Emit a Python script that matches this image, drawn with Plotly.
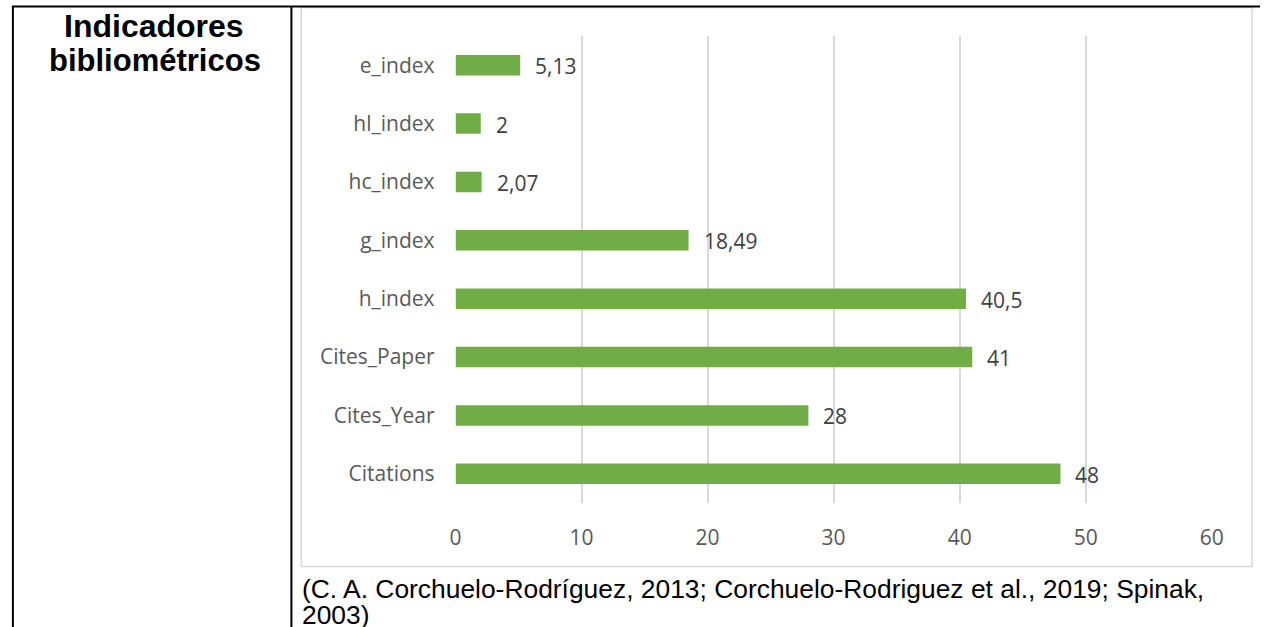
import plotly.graph_objects as go

categories = ["Citations", "Cites_Year", "Cites_Paper", "h_index", "g_index", "hc_index", "hl_index", "e_index"]
values = [48, 28, 41, 40.5, 18.49, 2.07, 2, 5.13]
x_ticks = [0, 10, 20, 30, 40, 50, 60]
labels = [("%g" % v).replace(".", ",") for v in values]

W, H = 1272, 627
def px(x):
    return x / W
def py(y):
    return 1 - y / H

fig = go.Figure()
fig.add_trace(go.Bar(
    x=values, y=categories, orientation="h",
    marker=dict(color="#70AD47", line=dict(width=0)),
    width=0.35, hoverinfo="skip",
))

annotations = []
for c, v, t in zip(categories, values, labels):
    annotations.append(dict(x=v, y=c, xref="x", yref="y", text=t, showarrow=False,
                            xanchor="left", yanchor="middle", xshift=13, yshift=-1,
                            font=dict(family="Open Sans", size=21, color="#404040")))

annotations.append(dict(x=px(150), y=py(26), xref="paper", yref="paper",
                        text="<b>Indicadores</b>", showarrow=False, xanchor="center", yanchor="middle",
                        font=dict(family="Liberation Sans", size=32, color="#000000")))
annotations.append(dict(x=px(151), y=py(60), xref="paper", yref="paper",
                        text="<b>bibliométricos</b>", showarrow=False, xanchor="center", yanchor="middle",
                        font=dict(family="Liberation Sans", size=31, color="#000000")))
annotations.append(dict(x=px(298), y=py(589), xref="paper", yref="paper",
                        text="(C. A. Corchuelo-Rodríguez, 2013; Corchuelo-Rodriguez et al., 2019; Spinak,",
                        showarrow=False, xanchor="left", yanchor="middle",
                        font=dict(family="Liberation Sans", size=26.4, color="#000000")))
annotations.append(dict(x=px(298), y=py(615), xref="paper", yref="paper",
                        text="2003)", showarrow=False, xanchor="left", yanchor="middle",
                        font=dict(family="Liberation Sans", size=26.4, color="#000000")))

shapes = [
    dict(type="rect", xref="paper", yref="paper", x0=px(299.5), x1=px(1264), y0=py(566.5), y1=py(7.5),
         line=dict(color="#D9D9D9", width=1.5), fillcolor="rgba(0,0,0,0)", layer="below"),
    dict(type="line", xref="paper", yref="paper", x0=px(6), x1=1, y0=py(6.5), y1=py(6.5),
         line=dict(color="#000000", width=2)),
    dict(type="line", xref="paper", yref="paper", x0=px(7), x1=px(7), y0=py(6), y1=0,
         line=dict(color="#000000", width=2)),
    dict(type="line", xref="paper", yref="paper", x0=px(289.5), x1=px(289.5), y0=py(6), y1=0,
         line=dict(color="#000000", width=2)),
]

fig.update_layout(
    width=W, height=H,
    margin=dict(l=0, r=0, t=0, b=0, pad=0),
    paper_bgcolor="white", plot_bgcolor="white",
    showlegend=False,
    annotations=annotations, shapes=shapes,
    xaxis=dict(domain=[px(456), px(1223)], range=[0, 60], tickvals=x_ticks,
               showgrid=True, gridcolor="#D9D9D9", gridwidth=1.5, zeroline=False,
               showline=False, ticks="", ticklabelstandoff=20,
               tickfont=dict(family="Open Sans", size=21, color="#595959")),
    yaxis=dict(domain=[py(503), py(36)], categoryorder="array", categoryarray=categories,
               showgrid=False, zeroline=False, showline=False, ticks="", ticklabelstandoff=20,
               tickfont=dict(family="Open Sans", size=21, color="#595959")),
)

fig.write_html("out.html", config={"displayModeBar": False},
               post_script="document.documentElement.style.overflow='hidden';document.body.style.margin='0';document.body.style.overflow='hidden';")
